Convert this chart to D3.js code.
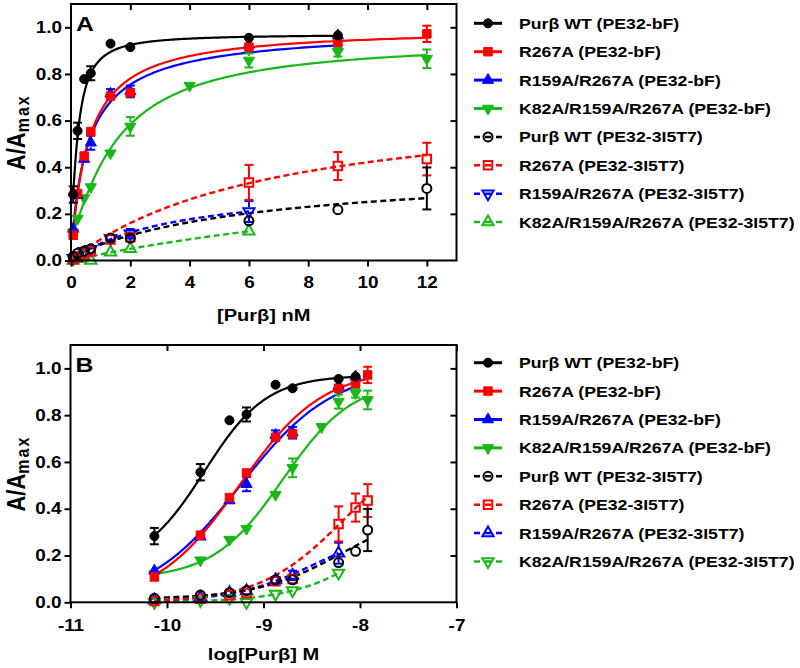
<!DOCTYPE html>
<html><head><meta charset="utf-8">
<script src="https://cdn.jsdelivr.net/npm/d3@7"></script>
<style>
body{margin:0;background:#fff}
text{font-family:"Liberation Sans",Arial,sans-serif;font-weight:bold;fill:#000}
</style>
</head><body>
<svg id="chart" width="800" height="668"></svg>
<script>
// ---------------- data ----------------
const concNM = [0.074, 0.222, 0.444, 0.667, 1.333, 2, 4, 6, 9, 12];
const legendLabels = ["Purβ WT (PE32-bF)", "R267A (PE32-bF)", "R159A/R267A (PE32-bF)", "K82A/R159A/R267A (PE32-bF)",
  "Purβ WT (PE32-3I5T7)", "R267A (PE32-3I5T7)", "R159A/R267A (PE32-3I5T7)", "K82A/R159A/R267A (PE32-3I5T7)"];
const seriesColors = ["#000000", "#ff0000", "#0000ff", "#17b817", "#000000", "#ff0000", "#0000ff", "#17b817"];

const wtBF      = [0.283, 0.556, 0.778, 0.803, 0.930, 0.915, null, 0.955, 0.965, null];
const wtBFErr   = [0.035, 0.035, 0.010, 0.030, 0.010, 0.010, null, 0.010, 0.010, null];
const r267aBF   = [0.108, 0.287, 0.448, 0.553, 0.705, 0.720, null, 0.915, 0.935, 0.972];
const r267aBFErr= [0.010, 0.010, 0.010, 0.010, 0.015, 0.015, null, 0.010, 0.010, 0.035];
const r159aBF   = [0.135, 0.280, 0.435, 0.505, 0.715, 0.725, null, 0.925, 0.965, null];
const r159aBFErr= [0.010, 0.010, 0.010, 0.030, 0.020, 0.025, null, 0.015, 0.010, null];
const k82aBF    = [0.120, 0.180, 0.268, 0.315, 0.460, 0.575, 0.750, 0.858, 0.895, 0.865];
const k82aBFErr = [0.010, 0.010, 0.010, 0.010, 0.010, 0.040, 0.015, 0.030, 0.020, 0.040];
const wt3I      = [0.017, 0.031, 0.041, 0.050, 0.096, 0.096, null, 0.170, 0.218, 0.309];
const wt3IErr   = [0.005, 0.005, 0.005, 0.005, 0.010, 0.010, null, 0.010, 0.005, 0.090];
const r267a3I   = [0.005, 0.015, 0.030, 0.040, 0.090, 0.100, null, 0.335, 0.405, 0.435];
const r267a3IErr= [0.005, 0.005, 0.005, 0.005, 0.010, 0.015, null, 0.075, 0.060, 0.070];
const r159a3I   = [0.010, 0.020, 0.040, 0.048, 0.095, 0.115, null, 0.210, null, null];
const r159a3IErr= [0.005, 0.005, 0.005, 0.010, 0.010, 0.020, null, 0.045, null, null];
const k82a3I    = [0.000, 0.008, 0.018, 0.000, 0.035, 0.050, null, 0.125, null, null];
const k82a3IErr = [0.005, 0.005, 0.005, 0.005, 0.010, 0.010, null, 0.010, null, null];

// fitted 4-parameter logistic curves (log10 M)
const fitBottom  = [0.15, 0, 0, 0.10, 0.015, 0, 0, 0];
const fitTop     = [0.97, 1.0, 1.0, 0.95, 0.40, 0.71, 0.336, 0.50];
const fitLogEC50 = [-9.612, -9.25, -9.24, -8.80, -8.20, -8.164, -8.444, -7.745];
const fitHill    = [1.35, 1.0, 0.9, 1.2, 1.0, 1.0, 1.0, 1.0];

const yTicks = [0, 0.2, 0.4, 0.6, 0.8, 1.0];
const xTicksA = [0, 2, 4, 6, 8, 10, 12];
const xTicksB = [-11, -10, -9, -8, -7];

const seriesValues = [wtBF, r267aBF, r159aBF, k82aBF, wt3I, r267a3I, r159a3I, k82a3I];
const seriesErrors = [wtBFErr, r267aBFErr, r159aBFErr, k82aBFErr, wt3IErr, r267a3IErr, r159a3IErr, k82a3IErr];

// ---------------- drawing ----------------
const svg = d3.select("#chart");
const sx = 1.18;
const markerSize = {circle: 64, square: 72, triUp: 55, triDown: 55};

function symbolPath(type) {
  const t = type === "circle" ? d3.symbolCircle : type === "square" ? d3.symbolSquare : d3.symbolTriangle;
  return d3.symbol().type(t).size(markerSize[type])();
}
function drawMarker(g, type, cx, cy, color, filled) {
  g.append("path").attr("d", symbolPath(type))
    .attr("transform", `translate(${cx},${cy})` + (type === "triDown" ? " rotate(180)" : ""))
    .attr("fill", filled ? color : "none")
    .attr("stroke", color).attr("stroke-width", filled ? 1 : 2);
}
function fitY(i, lx) {
  return fitBottom[i] + (fitTop[i] - fitBottom[i]) / (1 + Math.pow(10, (fitLogEC50[i] - lx) * fitHill[i]));
}

function drawPanel(cfg) {
  const g = svg.append("g");
  const x = d3.scaleLinear().domain(cfg.xDomain).range([cfg.left, cfg.right]);
  const y = d3.scaleLinear().domain([0, 1.1]).range([cfg.bottom, cfg.top]);
  const markerTypes = ["circle", "square", "triUp", "triDown", "circle", "square", cfg.open3, cfg.open4];
  const order = [7, 6, 5, 4, 3, 2, 1, 0];

  // fit curves
  order.forEach(i => {
    const vals = seriesValues[i];
    const idx = vals.map((v, k) => v == null ? -1 : k).filter(k => k >= 0);
    const lo = Math.log10(concNM[idx[0]] * 1e-9), hi = Math.log10(concNM[idx[idx.length - 1]] * 1e-9);
    const pts = d3.range(0, 301).map(j => {
      const lx = lo + (hi - lo) * j / 300;
      return [x(cfg.xOf(Math.pow(10, lx) * 1e9)), y(fitY(i, lx))];
    });
    g.append("path").attr("d", d3.line()(pts)).attr("fill", "none")
      .attr("stroke", seriesColors[i]).attr("stroke-width", i < 4 ? 2.2 : 2.4)
      .attr("stroke-dasharray", i < 4 ? null : "6,3.5");
  });

  // error bars and markers
  order.forEach(i => {
    const vals = seriesValues[i], errs = seriesErrors[i], col = seriesColors[i];
    vals.forEach((v, k) => {
      if (v == null) return;
      const cx = x(cfg.xOf(concNM[k])), cy = y(v);
      const e = errs[k] || 0;
      const yt = y(v + e), yb = y(Math.max(0, v - e));
      const r = 4.5;
      if (cy - yt > r) {
        g.append("line").attr("x1", cx).attr("x2", cx).attr("y1", yt).attr("y2", cy - r).attr("stroke", col).attr("stroke-width", 2);
        g.append("line").attr("x1", cx - 4.5).attr("x2", cx + 4.5).attr("y1", yt).attr("y2", yt).attr("stroke", col).attr("stroke-width", 2);
      }
      if (yb - cy > r) {
        g.append("line").attr("x1", cx).attr("x2", cx).attr("y1", cy + r).attr("y2", yb).attr("stroke", col).attr("stroke-width", 2);
        g.append("line").attr("x1", cx - 4.5).attr("x2", cx + 4.5).attr("y1", yb).attr("y2", yb).attr("stroke", col).attr("stroke-width", 2);
      }
      drawMarker(g, markerTypes[i], cx, cy, col, i < 4);
    });
  });

  // axes
  const yAxis = d3.axisLeft(y).tickValues(yTicks).tickFormat(d3.format(".1f")).tickSizeInner(6).tickSizeOuter(0).tickPadding(3);
  const ya = g.append("g").attr("transform", `translate(${cfg.left},0)`).call(yAxis);
  const xAxis = d3.axisBottom(x).tickValues(cfg.xTicks).tickFormat(d => String(d)).tickSizeInner(6).tickSizeOuter(0).tickPadding(cfg.xPad);
  const xa = g.append("g").attr("transform", `translate(0,${cfg.bottom})`).call(xAxis);
  const topAxis = d3.axisBottom(x).tickValues(cfg.xTicks.slice(1)).tickFormat("").tickSizeInner(6).tickSizeOuter(0);
  const ta = g.append("g").attr("transform", `translate(0,${cfg.top})`).call(topAxis);
  const rightAxis = d3.axisLeft(y).tickValues(yTicks.slice(1)).tickFormat("").tickSizeInner(6).tickSizeOuter(0);
  const ra = g.append("g").attr("transform", `translate(${cfg.right},0)`).call(rightAxis);
  [ya, xa, ta, ra].forEach(a => {
    a.select(".domain").remove();
    a.selectAll("line").attr("stroke", "#000").attr("stroke-width", 2);
    a.selectAll("text").attr("font-size", 16).attr("font-family", null).attr("fill", "#000");
  });
  ya.selectAll("text").attr("x", -9 / sx).attr("transform", `scale(${sx},1)`);
  xa.selectAll("text").attr("transform", `scale(${sx},1)`);

  // frame
  g.append("rect").attr("x", cfg.left).attr("y", cfg.top)
    .attr("width", cfg.right - cfg.left).attr("height", cfg.bottom - cfg.top)
    .attr("fill", "none").attr("stroke", "#000").attr("stroke-width", 2);

  // panel letter
  g.append("text").attr("transform", `translate(${cfg.left + 5},${cfg.letterY}) scale(${sx},1)`)
    .attr("font-size", 21).text(cfg.letter);

  // y label
  const yl = g.append("text")
    .attr("transform", `translate(${cfg.yLabelX},${(cfg.top + cfg.bottom) / 2}) scale(${sx},1) rotate(-90)`)
    .attr("text-anchor", "middle").attr("font-size", 22);
  yl.append("tspan").text("A/A");
  yl.append("tspan").attr("font-size", 16).attr("dy", 3).attr("letter-spacing", 2).text("max");

  // x label
  g.append("text").attr("transform", `translate(${(cfg.left + cfg.right) / 2},${cfg.xLabelY}) scale(${sx},1)`)
    .attr("text-anchor", "middle").attr("font-size", 17).text(cfg.xLabel);

  // legend
  legendLabels.forEach((lab, i) => {
    const yy = cfg.legendTop + i * 28.4;
    const col = seriesColors[i];
    g.append("line").attr("x1", 474).attr("x2", 502).attr("y1", yy).attr("y2", yy)
      .attr("stroke", col).attr("stroke-width", i < 4 ? 3 : 2.5)
      .attr("stroke-dasharray", i < 4 ? null : "6,5");
    drawMarker(g, markerTypes[i], 488, yy, col, i < 4);
    g.append("text").attr("transform", `translate(519,${yy + 5.5}) scale(${sx},1)`)
      .attr("font-size", 15).text(lab);
  });
}

drawPanel({
  left: 71, right: 456.5, top: 4, bottom: 260.5,
  xDomain: [0, 13], xTicks: xTicksA, xOf: c => c, xPad: 10,
  open3: "triDown", open4: "triUp",
  letter: "A", letterY: 30.5, yLabelX: 25, xLabel: "[Purβ] nM", xLabelY: 321,
  legendTop: 23.3
});
drawPanel({
  left: 70.5, right: 456.5, top: 345, bottom: 602.3,
  xDomain: [-11, -7], xTicks: xTicksB, xOf: c => Math.log10(c * 1e-9), xPad: 11,
  open3: "triUp", open4: "triDown",
  letter: "B", letterY: 372, yLabelX: 25, xLabel: "log[Purβ] M", xLabelY: 660,
  legendTop: 362.7
});
</script>
</body></html>
